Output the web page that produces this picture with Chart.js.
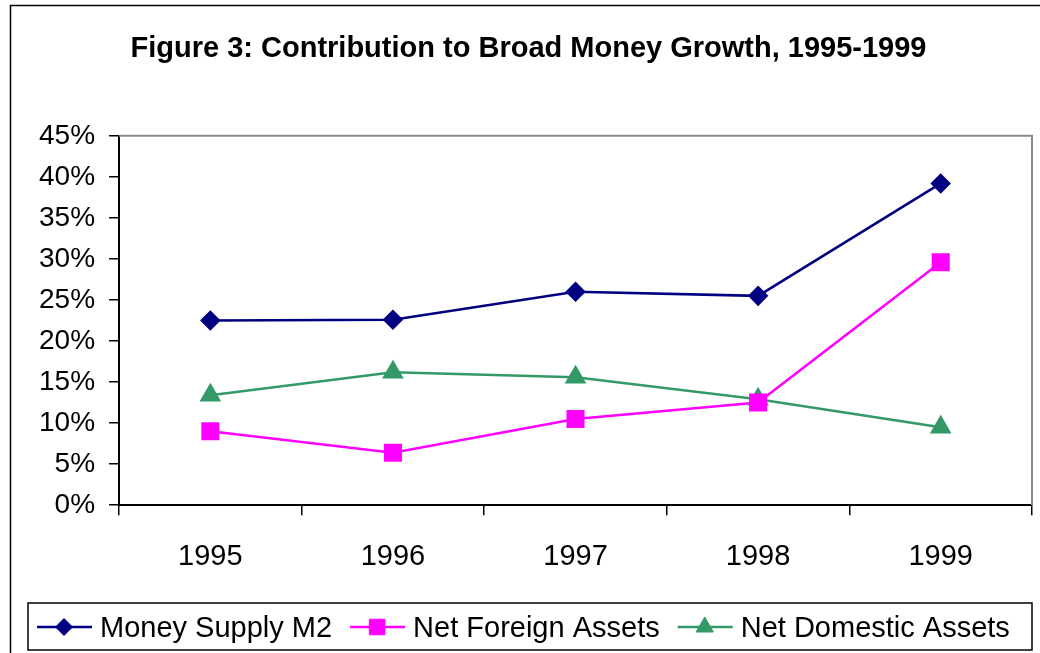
<!DOCTYPE html>
<html>
<head>
<meta charset="utf-8">
<script src="https://cdn.jsdelivr.net/npm/chart.js@4/dist/chart.umd.min.js"></script>
<style>
  html, body { margin: 0; padding: 0; background: #fff; }
  #chart { display: block; }
</style>
</head>
<body>
<canvas id="chart" width="1040" height="653"></canvas>
<script>
const years = ["1995", "1996", "1997", "1998", "1999"];
const moneySupplyM2 = [22.5, 22.6, 26.0, 25.5, 39.2];
const netForeignAssets = [9.0, 6.4, 10.5, 12.5, 29.6];
const netDomesticAssets = [13.4, 16.2, 15.6, 12.9, 9.5];

const FONT = "'Liberation Sans', Arial, sans-serif";

// outer frame + grey top/right edge of the plot area
const framePlugin = {
  id: "frame",
  beforeDraw(chart) {
    const ctx = chart.ctx;
    ctx.save();
    ctx.fillStyle = "#fff";
    ctx.fillRect(0, 0, chart.width, chart.height);
    ctx.strokeStyle = "#000";
    ctx.lineWidth = 1.5;
    ctx.strokeRect(10.5, 5.5, 1200, 800);
    ctx.restore();
  },
  beforeDatasetsDraw(chart) {
    const { ctx, chartArea: a } = chart;
    ctx.save();
    ctx.strokeStyle = "#8a8a8a";
    ctx.lineWidth = 2;
    ctx.beginPath();
    ctx.moveTo(a.left, a.top);
    ctx.lineTo(a.right, a.top);
    ctx.lineTo(a.right, a.bottom);
    ctx.stroke();
    ctx.restore();
  }
};

// Excel-style legend: line with marker, boxed
const legendPlugin = {
  id: "boxLegend",
  afterDraw(chart) {
    const ctx = chart.ctx;
    const top = 603, bottom = 650, left = 28, right = 1032;
    const cy = 627;
    ctx.save();
    ctx.strokeStyle = "#000";
    ctx.lineWidth = 1.5;
    ctx.strokeRect(left, top, right - left, bottom - top);
    ctx.font = "29px " + FONT;
    ctx.textBaseline = "middle";
    let x = 37;
    chart.data.datasets.forEach((ds) => {
      ctx.strokeStyle = ds.borderColor;
      ctx.lineWidth = 2.5;
      ctx.beginPath();
      ctx.moveTo(x, cy);
      ctx.lineTo(x + 55, cy);
      ctx.stroke();
      ctx.fillStyle = ds.pointBackgroundColor;
      ctx.strokeStyle = ds.pointBorderColor;
      ctx.lineWidth = 1;
      Chart.helpers.drawPoint(ctx, {
        pointStyle: ds.pointStyle,
        radius: ds.pointRadius,
        borderWidth: 1,
        rotation: 0
      }, x + 27, cy);
      ctx.fillStyle = "#000";
      ctx.fillText(ds.label, x + 63, cy + 2);
      x += 63 + ctx.measureText(ds.label).width + 18;
    });
    ctx.restore();
  }
};

function series(label, data, color, style, radius) {
  return {
    label,
    data,
    borderColor: color,
    backgroundColor: color,
    pointBackgroundColor: color,
    pointBorderColor: color,
    pointStyle: style,
    pointRadius: radius,
    pointHoverRadius: radius,
    borderWidth: 2.5,
    tension: 0
  };
}

new Chart(document.getElementById("chart"), {
  type: "line",
  data: {
    labels: years,
    datasets: [
      series("Money Supply M2", moneySupplyM2, "#000080", "rectRot", 8.5),
      series("Net Foreign Assets", netForeignAssets, "#ff00ff", "rect", 11),
      series("Net Domestic Assets", netDomesticAssets, "#339966", "triangle", 10)
    ]
  },
  options: {
    responsive: false,
    devicePixelRatio: 1,
    animation: false,
    layout: { autoPadding: false, padding: { left: 25, right: 8, top: 0, bottom: 55 } },
    plugins: {
      legend: { display: false },
      tooltip: { enabled: false },
      title: {
        display: true,
        text: "Figure 3: Contribution to Broad Money Growth, 1995-1999",
        color: "#000",
        font: { family: FONT, size: 29, weight: "bold" },
        padding: { top: 32, bottom: 69 }
      }
    },
    scales: {
      x: {
        offset: true,
        grid: { offset: true, drawOnChartArea: false, tickLength: 10, color: "#000", lineWidth: 1.5 },
        border: { color: "#000", width: 2 },
        ticks: { color: "#000", font: { family: FONT, size: 29 }, padding: 24, maxRotation: 0 },
        afterFit: (scale) => {
          scale.paddingLeft = 0;
          scale.paddingRight = 0;
        }
      },
      y: {
        min: 0,
        max: 45,
        grid: { drawOnChartArea: false, tickLength: 10, color: "#000", lineWidth: 1.5 },
        border: { color: "#000", width: 2 },
        ticks: {
          stepSize: 5,
          color: "#000",
          padding: 14,
          font: { family: FONT, size: 28 },
          callback: (v) => v + "%"
        }
      }
    }
  },
  plugins: [framePlugin, legendPlugin]
});
</script>
</body>
</html>
